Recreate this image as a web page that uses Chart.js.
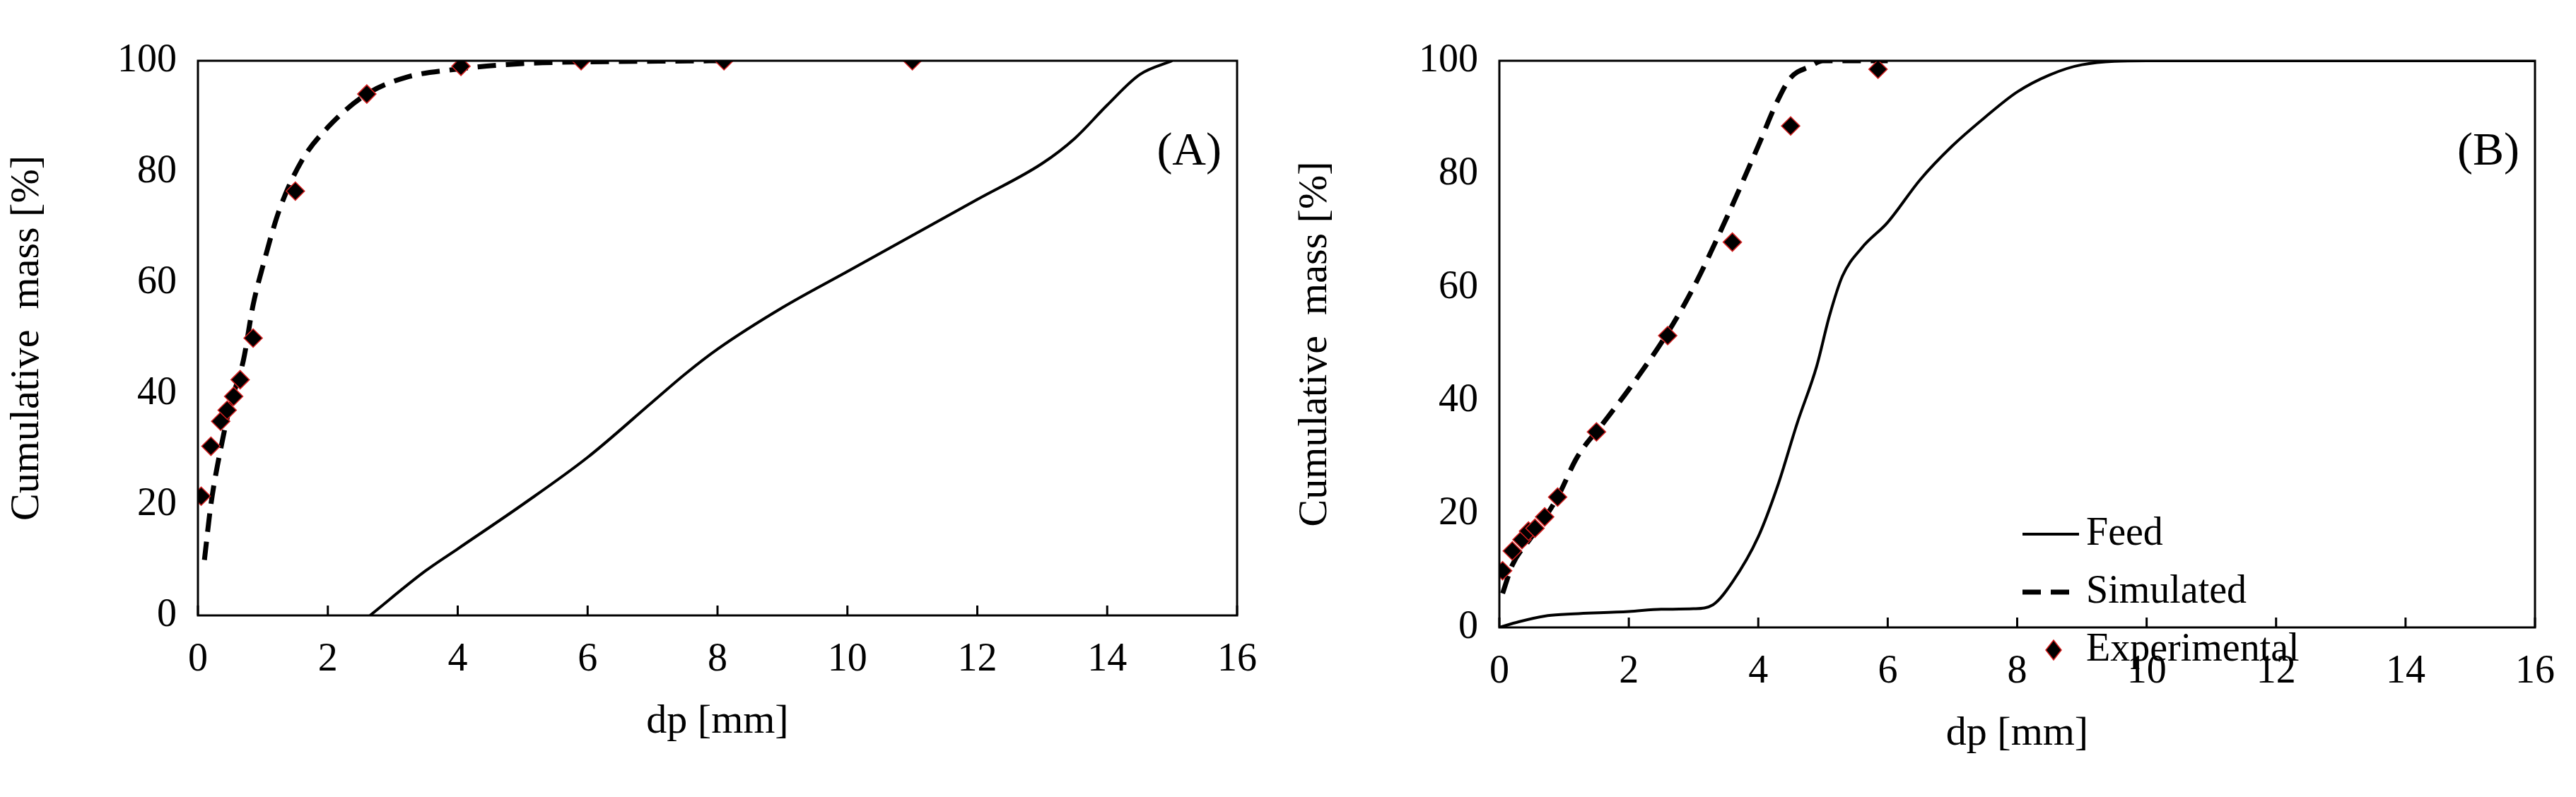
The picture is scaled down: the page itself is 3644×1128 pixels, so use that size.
<!DOCTYPE html>
<html>
<head>
<meta charset="utf-8">
<script src="https://cdn.jsdelivr.net/npm/chart.js@4.4.0/dist/chart.umd.min.js"></script>
<style>
  body { margin: 0; background: #fff; }
  .box { position: absolute; top: 0; height: 1128px; }
</style>
</head>
<body>
<div class="box" style="left:0;width:1800px"><canvas id="chartA"></canvas></div>
<div class="box" style="left:1822px;width:1822px"><canvas id="chartB"></canvas></div>
<script>
// panel A
const expA = [[0.05,21.5],[0.2,30.5],[0.35,35],[0.45,37],[0.55,39.5],[0.65,42.5],[0.85,50],[1.5,76.5],[2.6,94],[4.05,99],[5.9,100],[8.1,100],[11,100]];
const simA = [[0.1,10],[0.2,20],[0.35,30],[0.5,38],[0.7,46],[0.85,56],[1.0,63],[1.25,73],[1.6,82],[2.0,88],[2.6,94],[3.2,97],[4,98.5],[5,99.5],[6,99.8],[8,100]];
const feedA = [[2.65,0],[3.5,8],[4,12],[5,20],[6,28.5],[7,38.5],[7.5,43.5],[8,48],[9,55.5],[10,62],[11,68.5],[12,75],[13,81.5],[13.5,86],[14,92],[14.5,97.5],[15,100]];
// panel B
const expB = [[0.05,10],[0.2,13.5],[0.35,15.5],[0.45,17],[0.55,17.5],[0.7,19.5],[0.9,23],[1.5,34.5],[2.6,51.5],[3.6,68],[4.5,88.5],[5.85,98.5]];
const simB = [[0.05,6],[0.2,11],[0.5,16],[0.9,23],[1.2,30],[1.6,36],[2,42],[2.6,52],[3.0,60],[3.5,72],[4,85],[4.3,93],[4.5,97],[4.8,99],[5,100],[6,100]];
const feedB = [[0,0],[0.3,1],[0.7,2],[1,2.3],[2,2.8],[2.5,3.2],[3,3.3],[3.3,4],[3.6,8],[4,16],[4.3,25],[4.6,36],[4.9,46],[5.1,55],[5.3,62],[5.6,67],[6,71.5],[6.5,79],[7,85],[7.5,90],[8,94.5],[8.5,97.5],[9,99.3],[10,100],[16,100]];
const xTicks = [0,2,4,6,8,10,12,14,16];
const yTicks = [0,20,40,60,80,100];

const FONT = 'Liberation Serif';
const pts = a => a.map(p => ({x: p[0], y: p[1]}));

function frame(label, legend) {
    return {
        id: 'frame',
        afterDraw(chart) {
            const c = chart.ctx, a = chart.chartArea;
            c.save();
            c.strokeStyle = '#000'; c.lineWidth = 3;
            c.strokeRect(a.left, a.top, a.right - a.left, a.bottom - a.top);
            const xs = chart.scales.x;
            xTicks.forEach(t => {
                const px = xs.getPixelForValue(t);
                c.beginPath(); c.moveTo(px, a.bottom); c.lineTo(px, a.bottom - 14); c.stroke();
            });
            c.fillStyle = '#000';
            c.font = '66px ' + FONT;
            c.textAlign = 'right'; c.textBaseline = 'middle';
            c.fillText(label, a.right - 22, a.top + 130);
            if (legend) {
                c.font = '56px ' + FONT;
                c.textAlign = 'left';
                const lx = a.left + 740, ly = a.top + 670;
                c.lineWidth = 4;
                c.beginPath(); c.moveTo(lx, ly); c.lineTo(lx + 80, ly); c.stroke();
                c.fillText('Feed', lx + 90, ly);
                c.lineWidth = 7; c.setLineDash([26, 14]);
                c.beginPath(); c.moveTo(lx, ly + 82); c.lineTo(lx + 80, ly + 82); c.stroke();
                c.setLineDash([]);
                c.fillText('Simulated', lx + 90, ly + 82);
                const mx = lx + 44, my = ly + 164;
                c.beginPath(); c.moveTo(mx, my - 14); c.lineTo(mx + 11, my); c.lineTo(mx, my + 14); c.lineTo(mx - 11, my); c.closePath();
                c.fillStyle = '#000'; c.fill(); c.strokeStyle = '#d62020'; c.lineWidth = 1.5; c.stroke();
                c.fillStyle = '#000';
                c.fillText('Experimental', lx + 90, my);
            }
            c.restore();
        }
    };
}

function makeChart(id, feed, sim, exp, label, legend, yW, pad) {
    return new Chart(document.getElementById(id), {
        type: 'scatter',
        data: {
            datasets: [
                { label: 'Experimental', data: pts(exp), pointStyle: 'rectRot', pointRadius: 13, backgroundColor: '#000', borderColor: '#d62020', borderWidth: 1.5, order: 0 },
                { label: 'Simulated', data: pts(sim), showLine: true, borderColor: '#000', borderWidth: 7, borderDash: [26, 14], pointRadius: 0, cubicInterpolationMode: 'monotone', order: 1 },
                { label: 'Feed', data: pts(feed), showLine: true, borderColor: '#000', borderWidth: 4, pointRadius: 0, cubicInterpolationMode: 'monotone', order: 2 }
            ]
        },
        options: {
            responsive: true, maintainAspectRatio: false, animation: false,
            layout: { padding: pad },
            plugins: { legend: { display: false }, tooltip: { enabled: false } },
            scales: {
                x: {
                    type: 'linear', min: 0, max: 16,
                    afterBuildTicks: s => { s.ticks = xTicks.map(v => ({value: v})); },
                    afterFit: s => { s.height = 190; },
                    grid: { display: false }, border: { display: false },
                    ticks: { color: '#000', font: { family: FONT, size: 56 }, padding: 22 },
                    title: { display: true, text: 'dp [mm]', color: '#000', font: { family: FONT, size: 58 }, padding: { top: 4 } }
                },
                y: {
                    min: 0, max: 100,
                    afterBuildTicks: s => { s.ticks = yTicks.map(v => ({value: v})); },
                    afterFit: s => { s.width = yW; },
                    grid: { display: false }, border: { display: false },
                    ticks: { color: '#000', font: { family: FONT, size: 56 }, padding: 22 },
                    title: { display: true, text: 'Cumulative  mass [%]', color: '#000', font: { family: FONT, size: 58 }, padding: { bottom: 14 } }
                }
            }
        },
        plugins: [frame(label, legend)]
    });
}

makeChart('chartA', feedA, simA, expA, '(A)', false, 280, { top: 86, right: 48, bottom: 67, left: 0 });
makeChart('chartB', feedB, simB, expB, '(B)', true, 299, { top: 86, right: 58, bottom: 50, left: 0 });
</script>
</body>
</html>
